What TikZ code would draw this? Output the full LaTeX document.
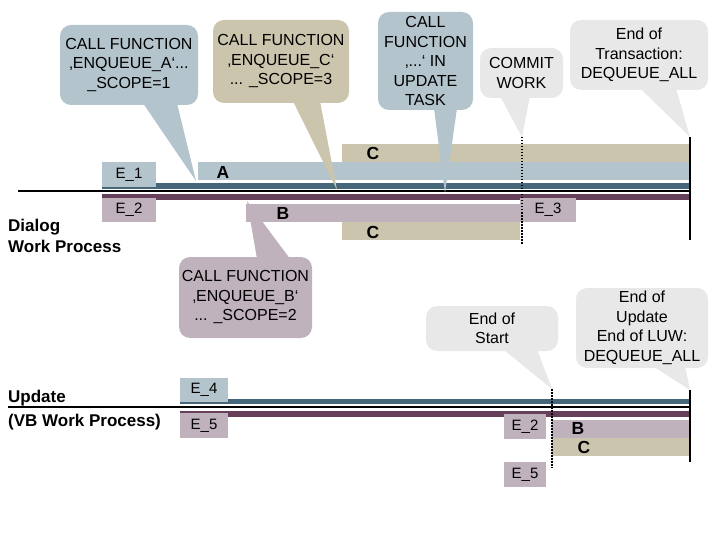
\documentclass[tikz,border=0pt]{standalone}
\usepackage{fontspec}
\setmainfont{Liberation Sans}
\usepackage{tikz}

\definecolor{lightblue}{RGB}{180,196,204}
\definecolor{darkblue}{RGB}{70,102,121}
\definecolor{lilac}{RGB}{192,178,188}
\definecolor{darklilac}{RGB}{102,64,90}
\definecolor{sand}{RGB}{204,197,173}
\definecolor{bubble}{RGB}{232,232,232}

\begin{document}
\begin{tikzpicture}[x=1pt,y=-1pt,inner sep=0pt]
  \tikzstyle{every node}=[font=\fontsize{16}{19.5}\selectfont]
  \tikzstyle{callout}=[rounded corners=11pt,align=center]
  \tikzstyle{ebox}=[font=\fontsize{15}{18}\selectfont]
  \tikzstyle{barlabel}=[font=\fontsize{17.5}{20}\selectfont\bfseries]
  \tikzstyle{proc}=[font=\fontsize{17}{21}\selectfont\bfseries,align=left,anchor=west]
  \tikzstyle{timeline}=[line width=1.5pt]
  \tikzstyle{endline}=[line width=2pt]
  \tikzstyle{dotline}=[line width=1.8pt,dash pattern=on 1.5pt off 1.5pt]

  \useasboundingbox (0,0) rectangle (720,540);

  % dialog work process
  \fill[sand] (342,144) rectangle (690,162);
  \fill[lightblue] (198,162) rectangle (690,180);
  \fill[darkblue] (102,183) rectangle (690,189);
  \draw[timeline] (18,191) -- (690,191);
  \fill[darklilac] (102,194) rectangle (690,200);
  \fill[lilac] (246,204) rectangle (520,222);
  \fill[sand] (342,222) rectangle (520,240);

  \node[ebox,fill=lightblue,minimum width=54pt,minimum height=25pt] (E1) at (129,174.5) {E\_1};
  \node[ebox,fill=lilac,minimum width=54pt,minimum height=24pt] (E2) at (129,210) {E\_2};
  \node[ebox,fill=lilac,minimum width=56pt,minimum height=24pt] (E3) at (548,210) {E\_3};
  \node[barlabel] (A) at (223,172) {A};
  \node[barlabel] (B) at (283,213) {B};
  \node[barlabel] (C) at (373,153) {C};
  \node[barlabel] (C') at (373,232) {C};

  \draw[endline] (690,137) -- (690,240);
  \draw[dotline] (522,137) -- (522,245);

  \node[proc] (dialog) at (8,235.5) {Dialog\\Work Process};

  % update work process
  \fill[darkblue] (180,399) rectangle (690,404);
  \draw[timeline] (8,407) -- (690,407);
  \fill[darklilac] (180,411) rectangle (690,417);
  \fill[lilac] (552,420) rectangle (690,438);
  \fill[sand] (552,438) rectangle (690,456);

  \node[ebox,fill=lightblue,minimum width=48pt,minimum height=24pt] (E4) at (204,390) {E\_4};
  \node[ebox,fill=lilac,minimum width=48pt,minimum height=25pt] (E5) at (204,425.5) {E\_5};
  \node[ebox,fill=lilac,minimum width=42pt,minimum height=25pt] (E2') at (525,426.5) {E\_2};
  \node[ebox,fill=lilac,minimum width=42pt,minimum height=25pt] (E5') at (525,474.5) {E\_5};
  \node[barlabel] (B') at (578,428) {B};
  \node[barlabel] (C'') at (584,447) {C};

  \draw[endline] (690,390) -- (690,462);
  \draw[dotline] (552,389) -- (552,468);

  \node[proc] (update) at (8,410.5) {Update\\[3pt](VB Work Process)};

  % callouts
  \node[callout,fill=lightblue,minimum width=138pt,minimum height=80pt] (callA) at (129,65)
    {CALL FUNCTION\\‚ENQUEUE\_A‘...\\\_SCOPE=1};
  \coordinate (tipA) at (196,181);
  \fill[lightblue] ([xshift=14pt,yshift=2pt]callA.south) -- (tipA) -- ([xshift=48pt,yshift=2pt]callA.south) -- cycle;

  \node[callout,fill=sand,minimum width=136pt,minimum height=83pt] (callC) at (281,61.5)
    {CALL FUNCTION\\‚ENQUEUE\_C‘\\... \_SCOPE=3};
  \coordinate (tipC) at (337,190);
  \fill[sand] ([xshift=12pt,yshift=2pt]callC.south) -- (tipC) -- ([xshift=39pt,yshift=2pt]callC.south) -- cycle;

  \node[callout,fill=lightblue,minimum width=95pt,minimum height=98pt] (callU) at (425.5,61)
    {CALL\\FUNCTION\\‚...‘ IN\\UPDATE\\TASK};
  \coordinate (tipU) at (445,193);
  \fill[lightblue] ([xshift=8.5pt,yshift=2pt]callU.south) -- (tipU) -- ([xshift=31.5pt,yshift=2pt]callU.south) -- cycle;

  \node[callout,fill=bubble,minimum width=83pt,minimum height=50pt] (commit) at (521.5,73)
    {COMMIT\\WORK};
  \coordinate (tipW) at (522,137);
  \fill[bubble] ([xshift=-21.5pt,yshift=2pt]commit.south) -- (tipW) -- ([xshift=8.5pt,yshift=2pt]commit.south) -- cycle;

  \node[callout,fill=bubble,minimum width=138pt,minimum height=70pt] (endT) at (639,55)
    {End of\\Transaction:\\DEQUEUE\_ALL};
  \coordinate (tipT) at (690,137);
  \fill[bubble] ([xshift=1pt,yshift=2pt]endT.south) -- (tipT) -- ([xshift=37pt,yshift=2pt]endT.south) -- cycle;

  \node[callout,fill=lilac,minimum width=133pt,minimum height=81pt] (callB) at (245.5,297.5)
    {CALL FUNCTION\\‚ENQUEUE\_B‘\\... \_SCOPE=2};
  \coordinate (tipB) at (247,201);
  \fill[lilac] ([xshift=11.5pt,yshift=-2pt]callB.north) -- (tipB) -- ([xshift=44.5pt,yshift=-2pt]callB.north) -- cycle;

  \node[callout,fill=bubble,minimum width=132pt,minimum height=45pt] (endS) at (492,328.5)
    {End of\\Start};
  \coordinate (tipS) at (552,389);
  \fill[bubble] ([xshift=11pt,yshift=2pt]endS.south) -- (tipS) -- ([xshift=45pt,yshift=2pt]endS.south) -- cycle;

  \node[callout,fill=bubble,minimum width=132pt,minimum height=80pt] (endU) at (642,328)
    {End of\\Update\\End of LUW:\\DEQUEUE\_ALL};
  \coordinate (tipE) at (690,390);
  \fill[bubble] ([xshift=11pt,yshift=2pt]endU.south) -- (tipE) -- ([xshift=43pt,yshift=2pt]endU.south) -- cycle;
\end{tikzpicture}
\end{document}
